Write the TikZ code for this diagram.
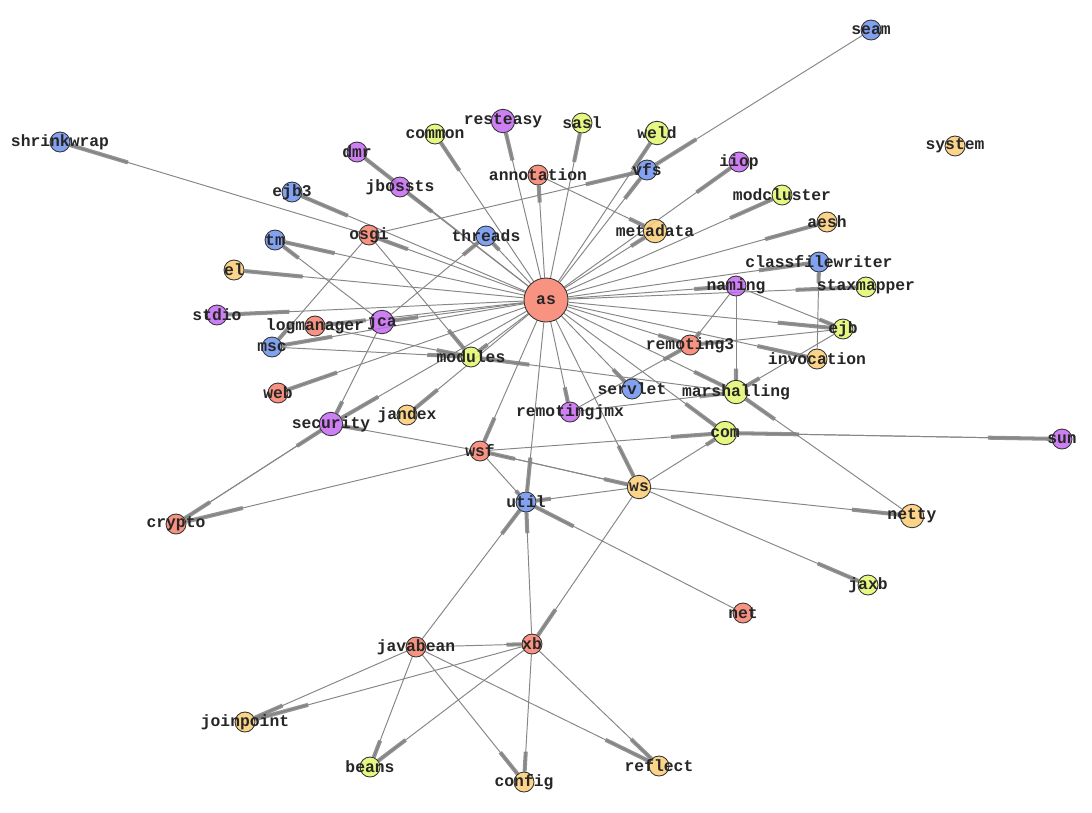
\documentclass[tikz,border=0pt]{standalone}
\usepackage{fontspec}
\newfontfamily\labelfont{Liberation Mono}
\usetikzlibrary{calc}
\pgfdeclarelayer{background}
\pgfsetlayers{background,main}
\definecolor{nred}{RGB}{247,128,108}
\definecolor{nblue}{RGB}{108,146,238}
\definecolor{npurple}{RGB}{198,104,242}
\definecolor{ngreen}{RGB}{226,246,108}
\definecolor{norange}{RGB}{250,204,118}
\tikzset{vertex/.style = {shape = circle, draw = black!80, line width = 0.5pt, fill opacity = 0.85, minimum size = 0.4cm, inner sep = 0pt}}
\tikzset{big/.style = {minimum size = 0.47cm}}
\tikzset{hub/.style = {minimum size = 0.88cm}}
\tikzset{rnode/.style = {vertex, fill = nred}}
\tikzset{bnode/.style = {vertex, fill = nblue}}
\tikzset{pnode/.style = {vertex, fill = npurple}}
\tikzset{gnode/.style = {vertex, fill = ngreen}}
\tikzset{onode/.style = {vertex, fill = norange}}
\tikzset{every label/.style = {font = \labelfont\bfseries\fontsize{9.3pt}{11pt}\selectfont, text = black!85, inner sep = 0pt}}
\tikzset{edge/.style = {draw = gray!95, line width = 0.55pt}}
\tikzset{headbar/.style = {draw = gray, draw opacity = 0.85, line width = 2.3pt}}

\begin{document}
\begin{tikzpicture}[x = 0.02cm, y = -0.02cm]
	\useasboundingbox (0, 0) rectangle (1092, 812);

	\node[rnode, hub, label = center:as] (as) at (546, 300) {};
	\node[bnode, label = center:seam] (seam) at (871, 30) {};
	\node[bnode, label = center:shrinkwrap] (shrinkwrap) at (60, 142) {};
	\node[pnode, label = center:dmr] (dmr) at (357, 152) {};
	\node[gnode, label = center:common] (common) at (435, 134) {};
	\node[pnode, big, label = center:resteasy] (resteasy) at (503, 121) {};
	\node[gnode, label = center:sasl] (sasl) at (582, 123) {};
	\node[gnode, big, label = center:weld] (weld) at (657, 133) {};
	\node[onode, label = center:system] (system) at (955, 146) {};
	\node[rnode, label = center:annotation] (annotation) at (538, 175) {};
	\node[bnode, label = center:vfs] (vfs) at (647, 170) {};
	\node[pnode, label = center:iiop] (iiop) at (739, 162) {};
	\node[pnode, label = center:jbossts] (jbossts) at (400, 187) {};
	\node[bnode, label = center:ejb3] (ejb3) at (292, 192) {};
	\node[gnode, label = center:modcluster] (modcluster) at (782, 195) {};
	\node[onode, label = center:aesh] (aesh) at (827, 222) {};
	\node[rnode, label = center:osgi] (osgi) at (369, 235) {};
	\node[bnode, label = center:threads] (threads) at (486, 236) {};
	\node[onode, big, label = center:metadata] (metadata) at (655, 231) {};
	\node[bnode, label = center:tm] (tm) at (275, 240) {};
	\node[bnode, label = center:classfilewriter] (classfilewriter) at (819, 262) {};
	\node[pnode, label = center:naming] (naming) at (736, 286) {};
	\node[gnode, label = center:staxmapper] (staxmapper) at (866, 287) {};
	\node[onode, label = center:el] (el) at (234, 270) {};
	\node[pnode, label = center:stdio] (stdio) at (217, 315) {};
	\node[rnode, label = center:logmanager] (logmanager) at (315, 326) {};
	\node[pnode, big, label = center:jca] (jca) at (382, 322) {};
	\node[bnode, label = center:msc] (msc) at (272, 347) {};
	\node[gnode, label = center:ejb] (ejb) at (843, 329) {};
	\node[rnode, label = center:remoting3] (remoting3) at (690, 345) {};
	\node[gnode, label = center:modules] (modules) at (471, 357) {};
	\node[onode, label = center:invocation] (invocation) at (817, 359) {};
	\node[rnode, label = center:web] (web) at (278, 393) {};
	\node[bnode, label = center:servlet] (servlet) at (632, 389) {};
	\node[gnode, big, label = center:marshalling] (marshalling) at (736, 392) {};
	\node[pnode, label = center:remotingjmx] (remotingjmx) at (570, 412) {};
	\node[onode, label = center:jandex] (jandex) at (407, 415) {};
	\node[pnode, big, label = center:security] (security) at (331, 424) {};
	\node[gnode, big, label = center:com] (com) at (725, 433) {};
	\node[pnode, label = center:sun] (sun) at (1062, 439) {};
	\node[rnode, label = center:wsf] (wsf) at (480, 451) {};
	\node[onode, big, label = center:ws] (ws) at (639, 487) {};
	\node[bnode, label = center:util] (util) at (526, 502) {};
	\node[rnode, label = center:crypto] (crypto) at (176, 524) {};
	\node[onode, big, label = center:netty] (netty) at (912, 516) {};
	\node[gnode, label = center:jaxb] (jaxb) at (868, 585) {};
	\node[rnode, label = center:net] (net) at (743, 613) {};
	\node[rnode, label = center:xb] (xb) at (532, 644) {};
	\node[rnode, label = center:javabean] (javabean) at (416, 647) {};
	\node[onode, label = center:joinpoint] (joinpoint) at (245, 722) {};
	\node[gnode, label = center:beans] (beans) at (370, 767) {};
	\node[onode, label = center:config] (config) at (524, 782) {};
	\node[onode, label = center:reflect] (reflect) at (659, 766) {};

	\begin{pgfonlayer}{background}
		% source/target, thick bar at the target end
		\foreach \s/\t in {as/sasl, as/resteasy, as/common, as/annotation, as/weld, as/vfs, as/metadata, as/iiop,
				as/modcluster, as/aesh, as/classfilewriter, as/naming, as/staxmapper, as/ejb, as/invocation,
				as/remoting3, as/marshalling, as/com, as/servlet, as/ws, as/remotingjmx, as/util, as/wsf,
				as/jandex, as/security, as/modules, as/web, as/msc, as/logmanager, as/jca, as/stdio, as/el,
				as/tm, as/osgi, as/ejb3, as/dmr, as/jbossts, as/threads,
				seam/vfs, osgi/vfs, osgi/shrinkwrap, osgi/msc, osgi/modules, annotation/metadata,
				jca/tm, jca/threads, jca/security, logmanager/modules, msc/modules, marshalling/modules,
				naming/ejb, naming/remoting3, naming/marshalling, invocation/classfilewriter,
				ejb/remoting3, ejb/marshalling, remotingjmx/remoting3, remotingjmx/marshalling,
				netty/marshalling, wsf/security, wsf/crypto, security/crypto, crypto/security,
				wsf/com, ws/com, com/sun, sun/com, wsf/ws, ws/wsf, wsf/util, ws/util,
				ws/netty, ws/jaxb, ws/xb, net/util, javabean/util, xb/util, javabean/xb,
				javabean/joinpoint, xb/joinpoint, javabean/beans, xb/beans,
				javabean/config, xb/config, javabean/reflect, xb/reflect} {
			\draw[edge] (\s) -- (\t);
			\draw[headbar] (\t) -- ($(\t)!0.22!(\s)$);
		}
	\end{pgfonlayer}
\end{tikzpicture}
\end{document}
